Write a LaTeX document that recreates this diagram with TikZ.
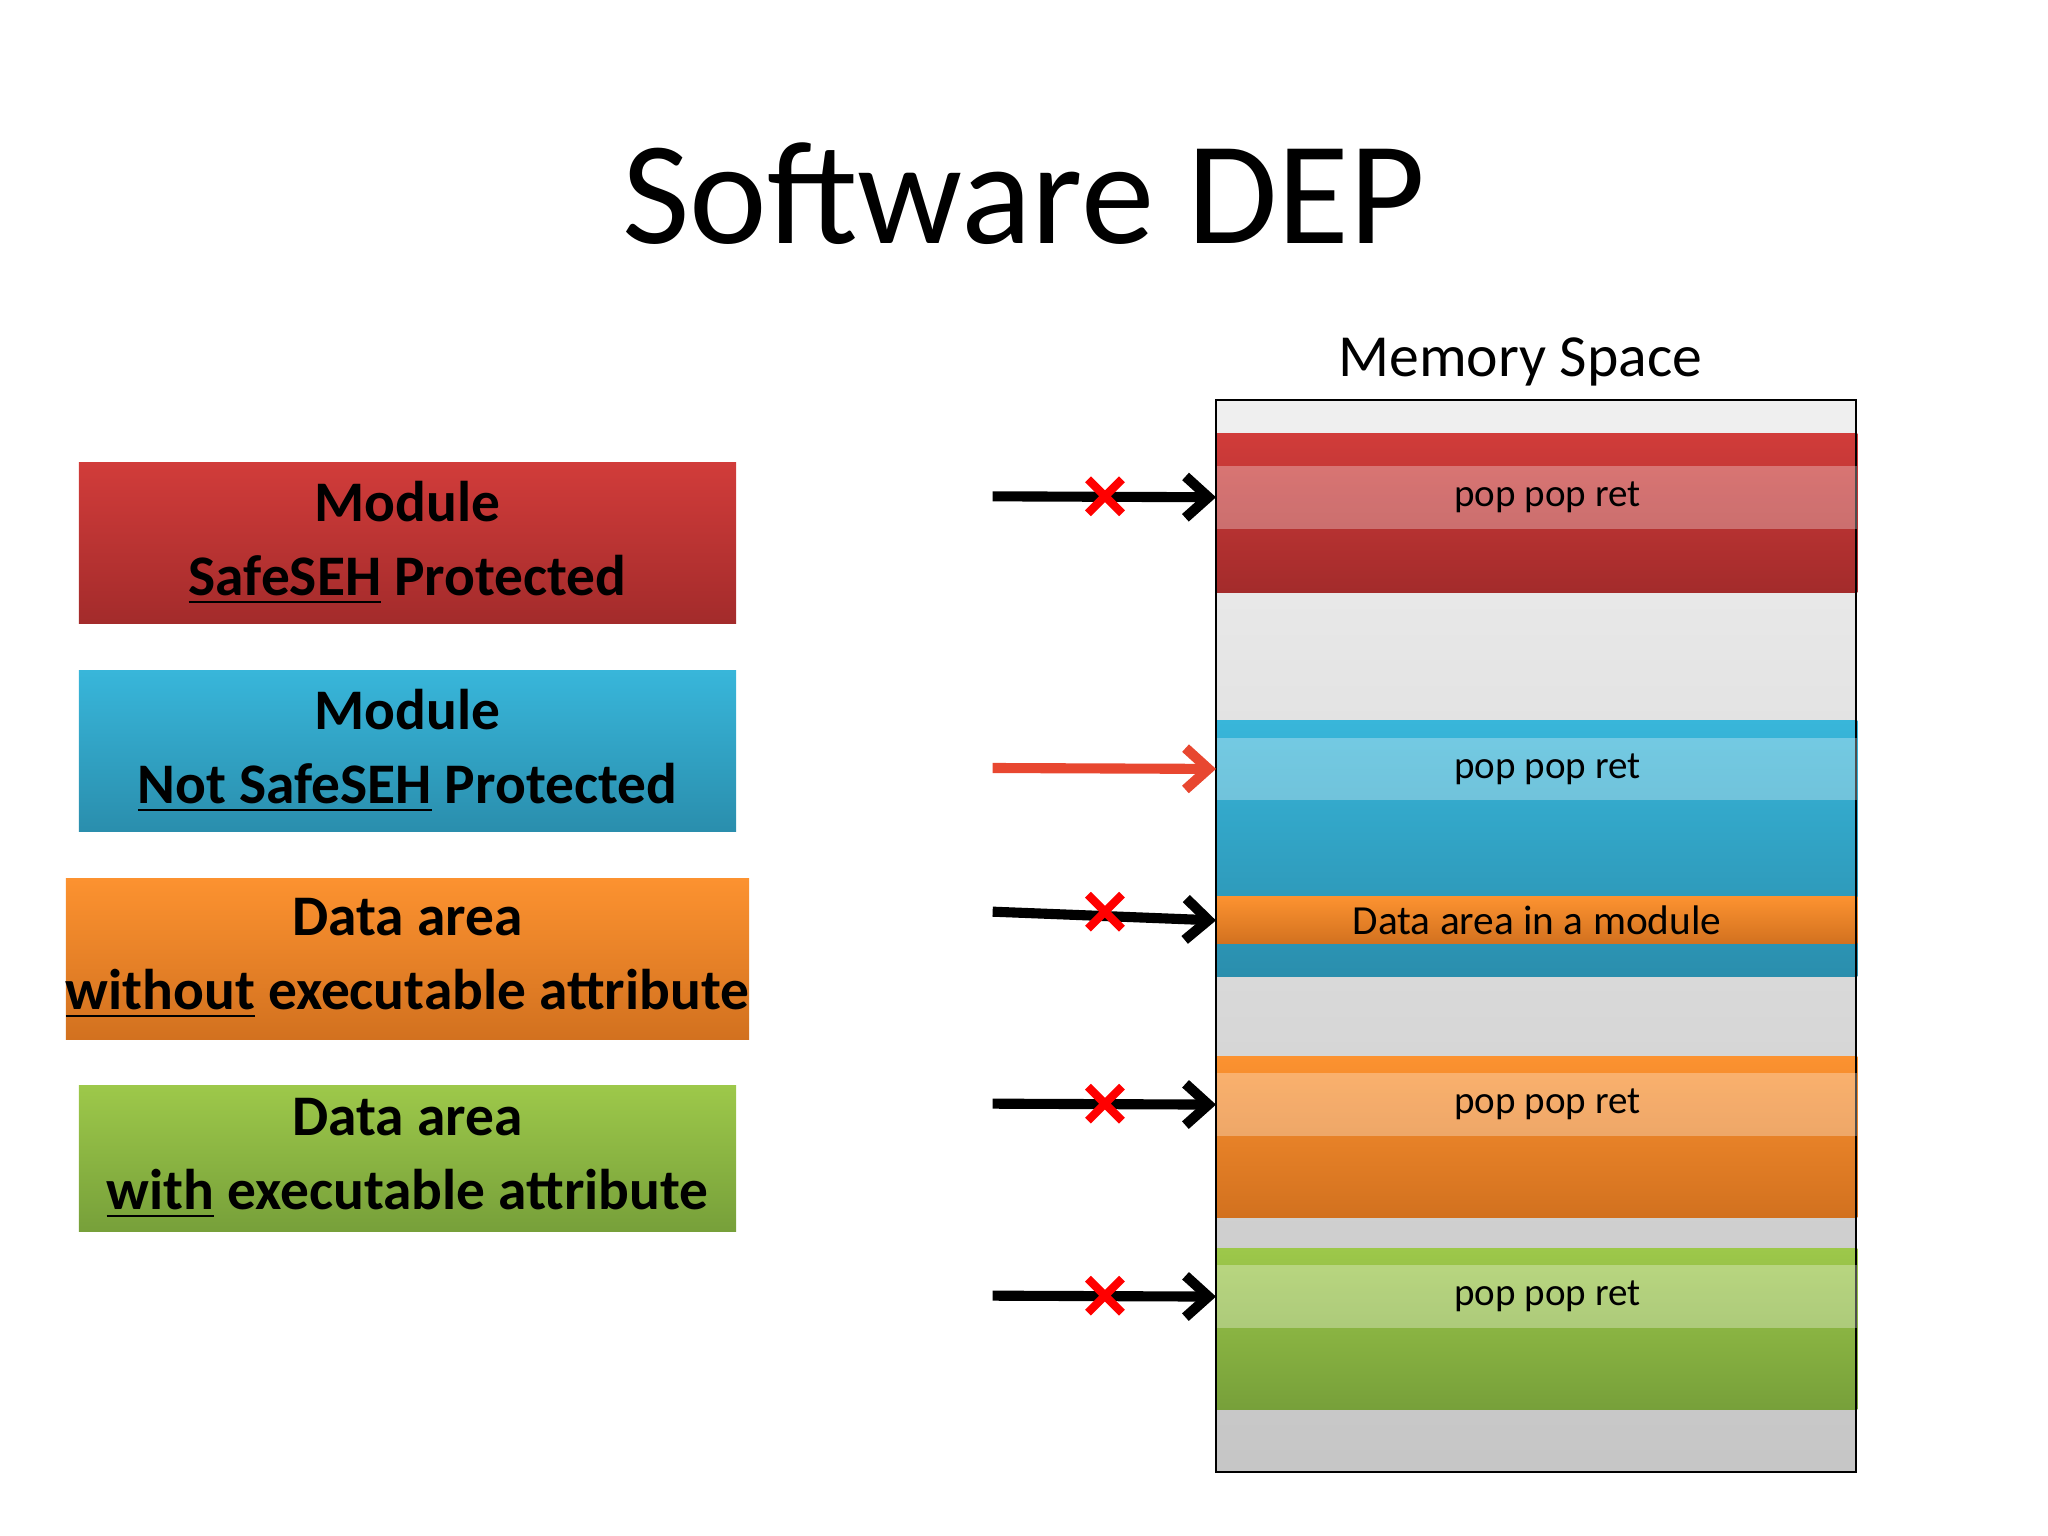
\documentclass[tikz,border=0pt]{standalone}
\usepackage{fontspec}
\setmainfont{Carlito}
\usetikzlibrary{positioning,arrows.meta}
\definecolor{redA}{HTML}{D13C3A}\definecolor{redB}{HTML}{A32B2B}
\definecolor{bluA}{HTML}{38B6DA}\definecolor{bluB}{HTML}{2A8EAD}
\definecolor{oraA}{HTML}{FC9230}\definecolor{oraB}{HTML}{D2711F}
\definecolor{grnA}{HTML}{9DC84A}\definecolor{grnB}{HTML}{77A03A}
\begin{document}
\begin{tikzpicture}[x=0.01cm,y=-0.01cm,
		legend/.style={minimum width=5.03cm, inner sep=0pt, align=center, font=\fontsize{12.5}{16}\selectfont\bfseries},
		block/.style={minimum width=4.9cm, inner sep=0pt, anchor=north west},
		band/.style={fill=white, fill opacity=0.3, text opacity=1, minimum width=4.9cm, minimum height=0.48cm, inner sep=0pt, anchor=north west, font=\fontsize{8.5}{10}\selectfont},
		conn/.style={-{Straight Barb[length=5pt,width=9pt]}, line width=2.2pt},
		nogo/.style={red, line width=1.8pt}
		]
		\useasboundingbox (0,0) rectangle (1568,1176);
		
		% Title
		\node[font=\fontsize{32}{36}\selectfont] (title) at (784,148) {Software DEP};
		
		% Legend
		\node[legend, top color=redA, bottom color=redB, minimum height=1.23cm] (safe) at (312,416) {Module\\\underline{SafeSEH} Protected};
		\node[legend, top color=bluA, bottom color=bluB, minimum height=1.23cm] (unsafe) at (312,575) {Module\\\underline{Not SafeSEH} Protected};
		\node[legend, top color=oraA, bottom color=oraB, minimum height=1.23cm] (noexec) at (312,734) {Data area\\\underline{without} executable attribute};
		\node[legend, top color=grnA, bottom color=grnB, minimum height=1.11cm] (exec) at (312,887) {Data area\\\underline{with} executable attribute};
		
		% Memory space
		\shade[top color=gray!12, bottom color=gray!45] (931,306) rectangle (1421,1127);
		\node[font=\fontsize{13}{15}\selectfont] (memlabel) at (1164,277) {Memory Space};
		\node[block, top color=redA, bottom color=redB, minimum height=1.22cm] (memsafe) at (931,331) {};
		\node[block, top color=bluA, bottom color=bluB, minimum height=1.96cm] (memunsafe) at (931,551) {};
		\node[block, top color=oraA, bottom color=oraB, minimum height=1.23cm] (memnoexec) at (931,808) {};
		\node[block, top color=grnA, bottom color=grnB, minimum height=1.23cm] (memexec) at (931,955) {};
		\node[block, top color=oraA, bottom color=oraB, minimum height=0.36cm, font=\fontsize{9}{10}\selectfont] (memdata) at (931,686) {Data area in a module};
		\draw (931,306) rectangle (1421,1127);
		
		% pop pop ret bands
		\foreach \n/\y in {safe/356, unsafe/564, noexec/821, exec/968}
			\node[band] (ppr\n) at (931,\y) {\hspace{0.16cm}pop pop ret\hfill};
		
		% Arrows
		\foreach \n/\y in {safe/380, unsafe/588, data/698, noexec/845, exec/992}
			\coordinate (src\n) at (760,\y);
		\draw[conn] (srcsafe) -- (pprsafe.west);
		\draw[conn, red!60!brown!90] (srcunsafe) -- (pprunsafe.west);
		\draw[conn] (srcdata) -- (memdata.west);
		\draw[conn] (srcnoexec) -- (pprnoexec.west);
		\draw[conn] (srcexec) -- (pprexec.west);
		
		% Blocked
		\foreach \y in {380, 698, 845, 992}
			\draw[nogo] (833,\y-13) -- (859,\y+13) (833,\y+13) -- (859,\y-13);
		
	\end{tikzpicture}
\end{document}
